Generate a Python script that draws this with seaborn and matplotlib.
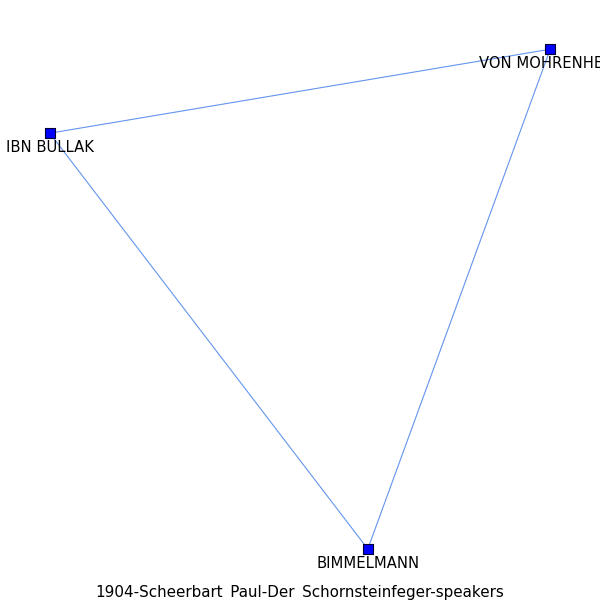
import matplotlib
matplotlib.use("Agg")
import matplotlib.pyplot as plt
import seaborn as sns
import pandas as pd

sns.set_style("white")
plt.rcParams["font.family"] = ["DejaVu Sans"]
plt.rcParams["text.color"] = "black"

# node positions (axes fraction)
names = ["IBN BULLAK", "VON MOHRENHEIM", "BIMMELMANN"]
xs = [0.083, 0.917, 0.613]
ys = [0.778, 0.918, 0.085]
edges = [("IBN BULLAK", "VON MOHRENHEIM"),
         ("IBN BULLAK", "BIMMELMANN"),
         ("VON MOHRENHEIM", "BIMMELMANN")]
title = "1904-Scheerbart_Paul-Der_Schornsteinfeger-speakers"

nodes = pd.DataFrame({"name": names, "x": xs, "y": ys})
pos = {n: (x, y) for n, x, y in zip(names, xs, ys)}

fig = plt.figure(figsize=(6, 6), dpi=100)
ax = fig.add_axes([0, 0, 1, 1])

for a, b in edges:
    sns.lineplot(x=[pos[a][0], pos[b][0]], y=[pos[a][1], pos[b][1]],
                 color="#6495ed", linewidth=0.8, ax=ax, sort=False,
                 estimator=None, zorder=1)

sns.scatterplot(data=nodes, x="x", y="y", marker="s", s=50,
                color="#0000ff", edgecolor="#000033", linewidth=0.8,
                ax=ax, zorder=2)

for _, r in nodes.iterrows():
    ax.annotate(r["name"], (r["x"], r["y"]), xytext=(0, -7),
                textcoords="offset pixels", ha="center", va="top",
                fontsize=10.6, color="black", zorder=3)

ax.set_xlim(0, 1)
ax.set_ylim(0, 1)
ax.axis("off")
fig.text(0.5, 0.005, title, ha="center", va="baseline", fontsize=10.9,
         color="black")

fig.savefig("out.png", dpi=100)
